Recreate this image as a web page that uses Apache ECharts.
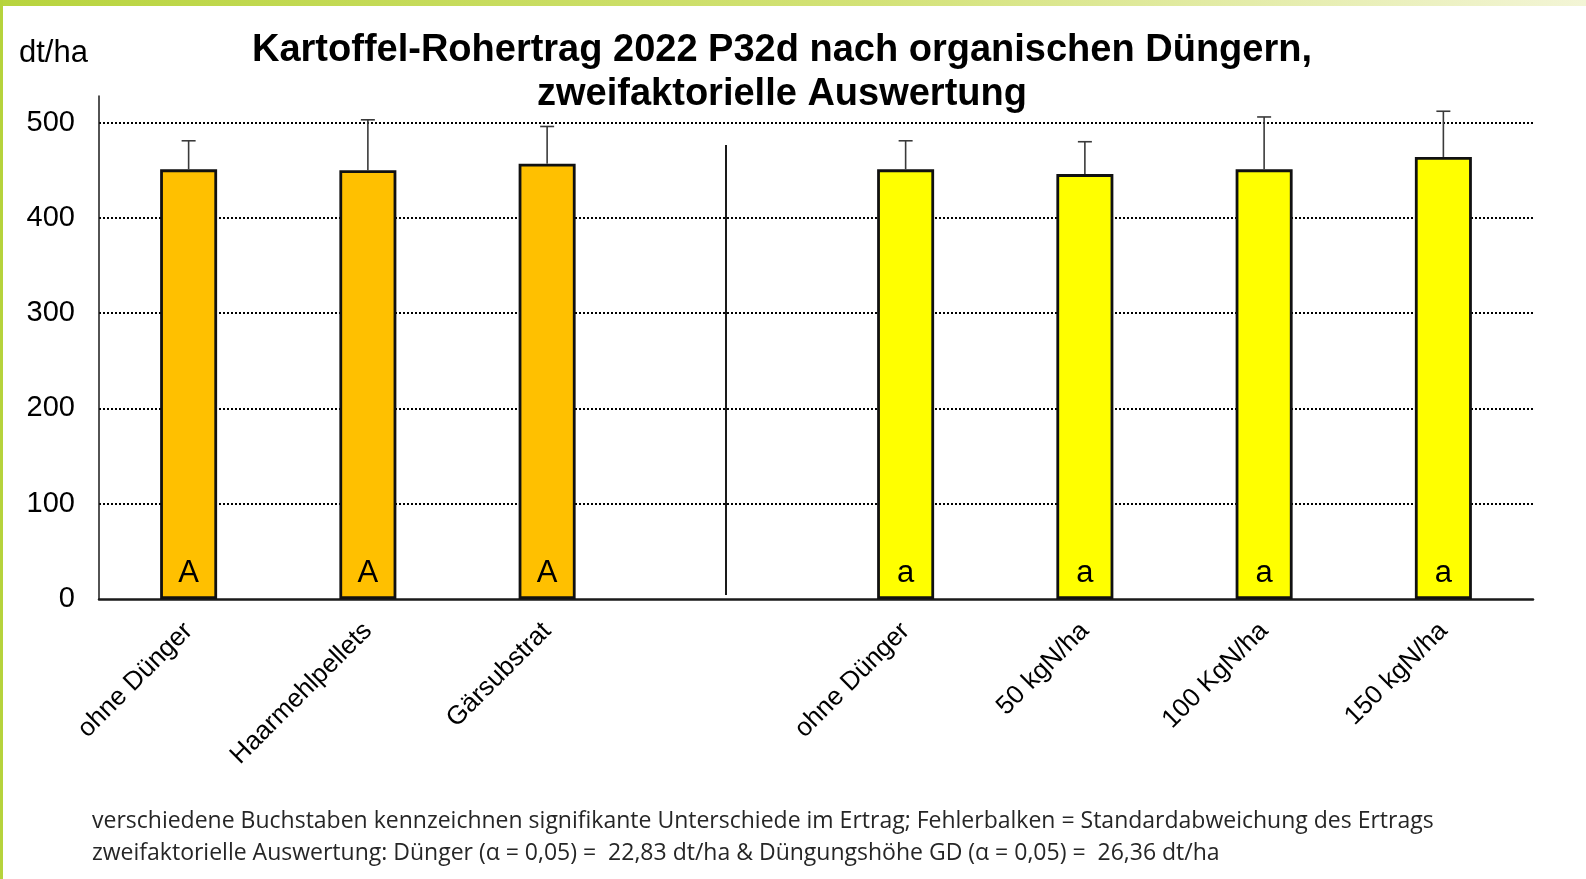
<!DOCTYPE html>
<html>
<head>
<meta charset="utf-8">
<script src="https://cdn.jsdelivr.net/npm/echarts@6/dist/echarts.min.js"></script>
<style>
  html, body { margin: 0; padding: 0; background: #fff; }
  #chart { width: 1586px; height: 879px; }
  .topband { position: absolute; left: 0; top: 0; width: 1586px; height: 6px;
    background: linear-gradient(to right, #b8d43e, #d3e277 55%, #f3f5d6); }
  .leftband { position: absolute; left: 0; top: 0; width: 3px; height: 879px; background: #b6d33c; }
</style>
</head>
<body>
<div id="chart"></div>
<div class="topband"></div>
<div class="leftband"></div>
<script>
// links: Dünger, rechts: Düngungshöhe; die leere Kategorie trennt die Gruppen
const categories = ['ohne Dünger', 'Haarmehlpellets', 'Gärsubstrat', '', 'ohne Dünger', '50 kgN/ha', '100 KgN/ha', '150 kgN/ha'];
const means = [451, 450, 457, null, 451, 446, 451, 464];
const sdUp = [30, 53, 39, null, 30, 34, 55, 48];
const letters = ['A', 'A', 'A', '', 'a', 'a', 'a', 'a'];
const groupSize = 3; // erste Gruppe (Dünger) hat 3 Balken

const yMax = 528;

const chart = echarts.init(document.getElementById('chart'), null, { renderer: 'canvas' });

const option = {
  animation: false,
  backgroundColor: '#fff',
  title: [
    {
      text: 'Kartoffel-Rohertrag 2022 P32d nach organischen Düngern,\nzweifaktorielle Auswertung',
      left: 777,
      top: 24,
      textAlign: 'center',
      textStyle: {
        fontSize: 38,
        fontWeight: 'bold',
        lineHeight: 44,
        color: '#000',
        fontFamily: 'Liberation Sans, Arial, sans-serif'
      }
    },
    {
      text: 'dt/ha',
      left: 14,
      top: 33,
      textStyle: { fontSize: 31, fontWeight: 'normal', color: '#000', fontFamily: 'Liberation Sans, Arial, sans-serif' }
    },
    {
      text: 'verschiedene Buchstaben kennzeichnen signifikante Unterschiede im Ertrag; Fehlerbalken = Standardabweichung des Ertrags\n'
        + 'zweifaktorielle Auswertung: Dünger (α = 0,05) =  22,83 dt/ha & Düngungshöhe GD (α = 0,05) =  26,36 dt/ha',
      left: 87,
      top: 801,
      textStyle: {
        fontSize: 23,
        fontWeight: 'normal',
        lineHeight: 31.5,
        color: '#262626',
        fontFamily: 'Open Sans, Noto Sans, sans-serif'
      }
    }
  ],
  grid: { left: 99, right: 53, top: 96, bottom: 280 },
  xAxis: {
    type: 'category',
    data: categories,
    axisLine: { show: true, lineStyle: { color: '#1a1a1a', width: 2.5 } },
    axisTick: { show: false },
    axisLabel: {
      interval: 0,
      rotate: 45,
      margin: 28,
      fontSize: 26,
      color: '#000',
      fontFamily: 'Liberation Sans, Arial, sans-serif'
    }
  },
  yAxis: {
    type: 'value',
    min: 0,
    max: yMax,
    interval: 100,
    axisLine: { show: true, lineStyle: { color: '#1a1a1a', width: 1.5 } },
    axisTick: { show: false },
    axisLabel: {
      showMaxLabel: false,
      margin: 24,
      fontSize: 29,
      color: '#000',
      fontFamily: 'Liberation Sans, Arial, sans-serif'
    },
    splitLine: {
      show: true,
      showMinLine: false,
      showMaxLine: false,
      lineStyle: { color: '#000', width: 2, type: [2, 2] }
    }
  },
  graphic: [
    {
      type: 'line',
      shape: { x1: 726, y1: 145, x2: 726, y2: 595 },
      style: { stroke: '#1a1a1a', lineWidth: 2 },
      z: 10
    }
  ],
  series: [
    {
      type: 'bar',
      data: means,
      barWidth: 57,
      itemStyle: {
        color: (p) => (p.dataIndex < groupSize ? '#FFC000' : '#FFFF00'),
        borderColor: '#111',
        borderWidth: 2.8
      },
      label: {
        show: true,
        position: 'insideBottom',
        distance: 10,
        formatter: (p) => letters[p.dataIndex],
        fontSize: 31,
        color: '#000',
        fontFamily: 'Liberation Sans Narrow, Liberation Sans, Arial, sans-serif'
      },
      z: 2
    },
    {
      type: 'custom',
      data: means.map((m, i) => (m == null ? [i, null, null] : [i, m, m + sdUp[i]])),
      renderItem: (params, api) => {
        if (api.value(1) == null || isNaN(api.value(1))) return null;
        const base = api.coord([api.value(0), api.value(1)]);
        const top = api.coord([api.value(0), api.value(2)]);
        const style = { stroke: '#3a3a3a', lineWidth: 1.6 };
        return {
          type: 'group',
          children: [
            { type: 'line', shape: { x1: base[0], y1: base[1], x2: top[0], y2: top[1] }, style: style },
            { type: 'line', shape: { x1: top[0] - 7, y1: top[1], x2: top[0] + 7, y2: top[1] }, style: style }
          ]
        };
      },
      z: 3
    }
  ]
};

chart.setOption(option);
</script>
</body>
</html>
